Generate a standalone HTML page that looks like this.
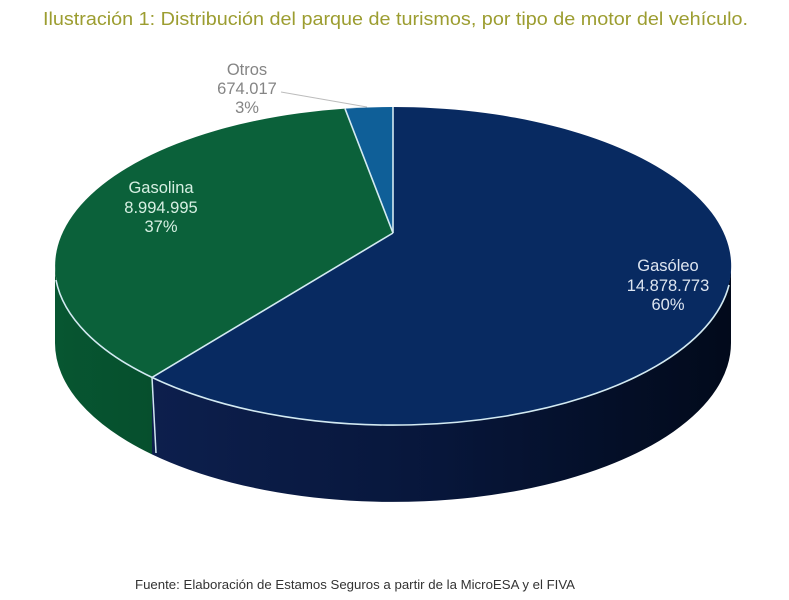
<!DOCTYPE html>
<html>
<head>
<meta charset="utf-8">
<style>
  html,body{margin:0;padding:0;background:#fff;}
  body{width:789px;height:600px;overflow:hidden;}
  svg{display:block;}
</style>
</head>
<body>
<svg width="789" height="600" viewBox="0 0 789 600" xmlns="http://www.w3.org/2000/svg">
  <defs>
    <linearGradient id="sideBlue" x1="152" y1="0" x2="731" y2="0" gradientUnits="userSpaceOnUse">
      <stop offset="0" stop-color="#0d1f4d"/>
      <stop offset="0.5" stop-color="#07163a"/>
      <stop offset="1" stop-color="#020a1b"/>
    </linearGradient>
    <linearGradient id="sideGreen" x1="55" y1="0" x2="152" y2="0" gradientUnits="userSpaceOnUse">
      <stop offset="0" stop-color="#075631"/>
      <stop offset="1" stop-color="#064f2d"/>
    </linearGradient>
  </defs>
  <rect width="789" height="600" fill="#fff"/>

  <!-- Title -->
  <text x="43" y="25" font-family="Liberation Sans, sans-serif" font-size="18" fill="#9c9d30" textLength="705" lengthAdjust="spacingAndGlyphs">Ilustración 1: Distribución del parque de turismos, por tipo de motor del vehículo.</text>

  <!-- Side walls -->
  <path d="M731,266 A338,159 0 0 1 152,377.4 L152,454.4 A338,159 0 0 0 731,343 Z" fill="url(#sideBlue)"/>
  <path d="M152,377.4 A338,159 0 0 1 55,266 L55,343 A338,159 0 0 0 152,454.4 Z" fill="url(#sideGreen)"/>
  <line x1="152" y1="377.4" x2="156" y2="453" stroke="#cfe6ee" stroke-width="1.5"/>

  <!-- Top slices -->
  <path d="M393,233 L393,107 A338,159 0 1 1 152,377.4 Z" fill="#082a61"/>
  <path d="M393,233 L152,377.4 A338,159 0 0 1 345,108.6 Z" fill="#0b613a"/>
  <path d="M393,233 L345,108.6 A338,159 0 0 1 393,107 Z" fill="#0f5f98"/>

  <g stroke="#d3eaf2" stroke-width="1.6" fill="none" stroke-linejoin="round">
    <line x1="393" y1="233" x2="393" y2="107"/>
    <line x1="393" y1="233" x2="345" y2="108.6"/>
    <line x1="393" y1="233" x2="152" y2="377.4"/>
    <path d="M729,285 A338,159 0 0 1 152,377.4 A338,159 0 0 1 56,280"/>
  </g>

  <!-- Otros label + leader -->
  <line x1="281" y1="92" x2="367" y2="107" stroke="#bcbcbc" stroke-width="1"/>
  <g font-family="Liberation Sans, sans-serif" font-size="16.5" fill="#858585" text-anchor="middle">
    <text x="247" y="75">Otros</text>
    <text x="247" y="94">674.017</text>
    <text x="247" y="113">3%</text>
  </g>

  <!-- Gasolina label -->
  <g font-family="Liberation Sans, sans-serif" font-size="16.5" fill="#d6efe2" text-anchor="middle">
    <text x="161" y="193">Gasolina</text>
    <text x="161" y="213">8.994.995</text>
    <text x="161" y="232">37%</text>
  </g>

  <!-- Gasóleo label -->
  <g font-family="Liberation Sans, sans-serif" font-size="16.5" fill="#dde5f0" text-anchor="middle">
    <text x="668" y="271">Gasóleo</text>
    <text x="668" y="291">14.878.773</text>
    <text x="668" y="310">60%</text>
  </g>

  <!-- Footer -->
  <text x="135" y="589" font-family="Liberation Sans, sans-serif" font-size="13" fill="#333333" textLength="440" lengthAdjust="spacingAndGlyphs">Fuente: Elaboración de Estamos Seguros a partir de la MicroESA y el FIVA</text>
</svg>
</body>
</html>
